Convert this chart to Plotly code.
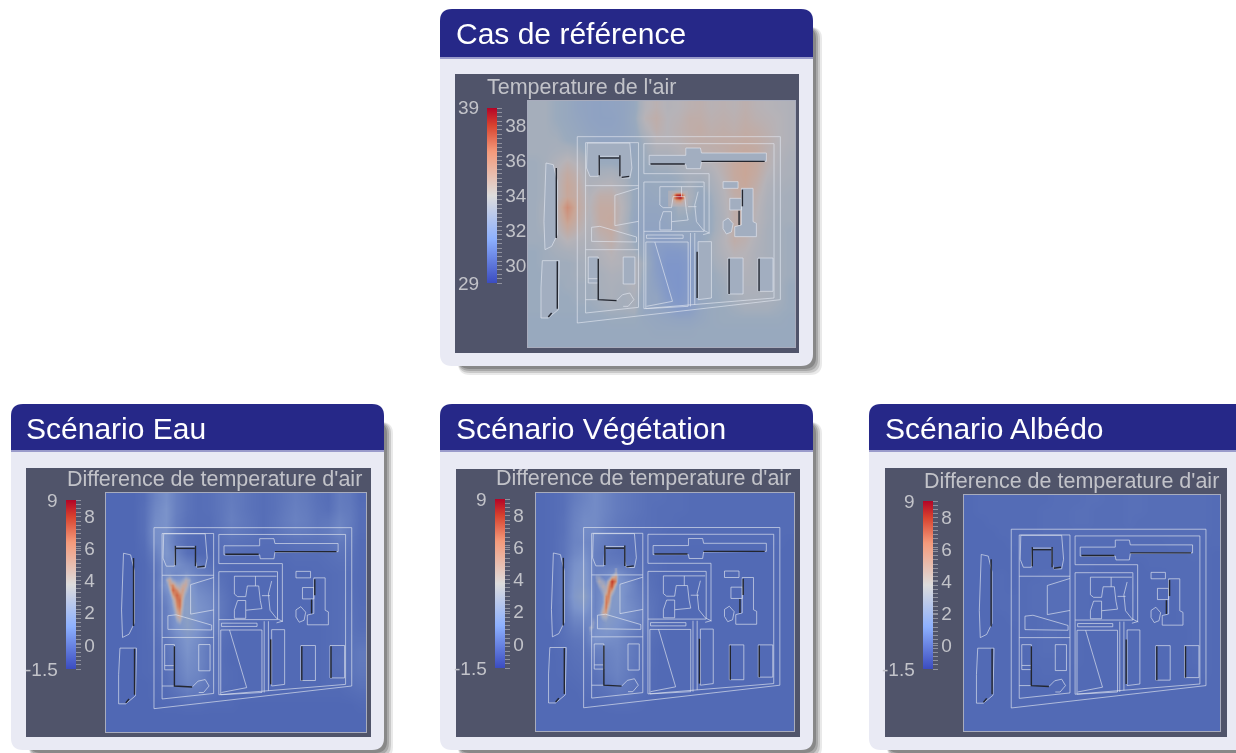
import plotly.graph_objects as go

W, H = 1236, 753

# ---- data: air temperature estimated on a coarse plan grid (tenths of a degree)
PLAN_X = [264 + 33.4 * (i + .5) for i in range(24)]
PLAN_Y = [289 + 33.55 * (j + .5) for j in range(22)]

REF_T = [
[340,340,338,336,333,332,331,332,333,336,345,348,345,346,348,349,347,348,347,349,347,346,345,344],
[340,340,338,336,334,332,331,331,333,337,347,350,346,347,350,350,348,349,348,350,348,347,346,344],
[340,340,339,337,335,333,332,332,333,336,344,349,346,348,350,351,349,350,349,351,350,348,346,344],
[340,340,340,338,337,335,333,333,334,336,340,346,346,347,349,350,350,351,351,352,351,349,346,344],
[340,340,341,342,340,337,335,335,336,336,339,343,343,345,347,348,349,350,352,353,352,348,345,343],
[339,340,344,348,345,340,338,338,337,337,338,340,340,342,344,345,346,349,353,355,353,348,344,342],
[339,340,346,352,348,342,341,342,340,337,337,338,338,339,341,341,343,348,353,355,352,346,343,342],
[339,340,346,354,350,343,345,346,342,337,336,337,336,338,340,338,341,346,352,354,350,344,342,341],
[339,340,346,354,351,345,350,350,344,337,335,336,336,342,342,336,339,345,350,352,348,343,341,340],
[339,341,348,362,352,346,352,352,345,336,334,334,335,340,340,335,338,344,350,352,347,342,341,340],
[339,341,347,358,351,345,352,353,344,335,333,333,334,338,337,335,338,343,350,351,346,342,340,340],
[339,340,345,352,348,344,350,352,343,335,332,332,333,335,335,335,338,344,350,350,345,341,340,339],
[339,339,342,346,344,343,347,350,344,338,334,328,328,330,332,335,340,345,350,348,344,341,340,339],
[338,339,340,341,342,342,344,347,343,340,335,327,324,324,327,336,340,344,347,346,343,341,340,339],
[338,339,339,339,340,341,343,345,344,344,338,327,322,322,325,336,339,342,345,345,343,342,340,339],
[338,338,339,339,340,340,341,343,342,345,336,328,322,321,325,336,338,340,343,344,343,342,340,339],
[338,338,338,339,339,339,341,342,341,344,335,330,323,321,325,335,338,339,341,343,343,342,340,338],
[338,338,338,338,339,339,340,342,340,342,334,333,325,322,326,335,337,339,340,342,342,341,340,338],
[338,338,338,338,338,338,339,340,340,341,334,333,330,325,327,334,337,338,339,340,340,340,339,338],
[337,337,337,337,337,337,337,338,338,338,336,335,334,333,333,335,337,338,338,338,338,338,338,337],
[337,337,337,337,337,337,337,337,337,337,337,336,336,336,336,337,337,337,337,337,337,337,337,337],
[337,337,337,337,337,337,337,337,337,337,337,337,337,337,337,337,337,337,337,337,337,337,337,337],
]
EAU_DT = [
[-6,-6,-6,-3,8,14,6,0,-3,-2,1,4,2,-1,-3,-1,2,5,3,-1,-3,4,2,-4],
[-6,-6,-6,-2,10,16,6,0,-3,-2,1,5,2,-1,-3,-1,3,6,4,0,-2,5,3,-3],
[-6,-6,-6,-2,12,16,5,-1,-3,-3,1,6,3,0,-3,0,4,7,5,1,2,8,4,-3],
[-6,-6,-6,-2,14,15,4,-2,-4,-3,0,4,2,0,-3,0,3,5,4,2,4,10,3,-3],
[-6,-6,-6,-3,12,16,3,-3,-5,-4,-2,0,-1,-2,-3,-3,-2,-1,-1,-1,0,3,1,-4],
[-6,-6,-6,-4,6,18,8,-2,-5,-5,-3,-2,-3,-4,-4,-4,-4,-3,-3,-3,-2,0,-1,-4],
[-6,-6,-6,-5,2,14,14,8,3,-2,-4,-5,-5,-5,-5,-5,-5,-4,-4,-4,-3,-2,-2,-4],
[-6,-6,-6,-5,0,14,10,14,6,2,-2,-4,-5,-5,-5,-5,-5,-5,-5,-4,-4,-3,-3,-4],
[-6,-6,-6,-5,0,18,22,22,10,6,0,-4,-5,-5,-5,-5,-5,-5,-5,-5,-4,-3,-3,-4],
[-6,-6,-6,-5,0,10,28,24,14,10,2,-3,-5,-5,-5,-5,-5,-5,-5,-5,-4,-3,-2,-4],
[-6,-6,-6,-5,-1,6,24,26,16,12,3,-3,-5,-5,-5,-5,-5,-5,-5,-5,-4,-3,-2,-3],
[-6,-6,-6,-5,-1,6,18,26,16,10,2,-3,-5,-5,-5,-5,-5,-5,-5,-5,-4,-3,-1,-3],
[-6,-6,-6,-5,-2,5,16,24,16,7,1,-4,-5,-5,-5,-5,-5,-5,-5,-5,-4,-3,-1,-2],
[-6,-6,-6,-5,-3,2,10,18,12,3,-2,-4,-5,-5,-5,-5,-5,-5,-5,-5,-4,-3,0,0],
[-6,-6,-6,-5,-4,0,8,16,10,2,-3,-5,-5,-5,-5,-5,-5,-5,-5,-5,-4,-3,0,3],
[-6,-6,-6,-5,-4,-1,6,14,10,2,-3,-5,-5,-5,-5,-5,-5,-5,-5,-5,-4,-2,0,3],
[-6,-6,-6,-5,-4,-2,5,12,9,1,-3,-4,-5,-5,-5,-5,-5,-5,-5,-5,-4,-3,0,2],
[-6,-6,-6,-6,-5,-3,3,9,7,1,-3,-4,-5,-5,-5,-5,-5,-5,-5,-5,-4,-4,-2,0],
[-6,-6,-6,-6,-5,-4,-1,3,2,-1,-4,-5,-5,-5,-5,-5,-5,-5,-5,-5,-5,-5,-4,-3],
[-6,-6,-6,-6,-6,-5,-5,-4,-4,-5,-5,-5,-6,-6,-6,-6,-6,-6,-6,-6,-6,-6,-6,-5],
[-6,-6,-6,-6,-6,-6,-6,-6,-6,-6,-6,-6,-6,-6,-6,-6,-6,-6,-6,-6,-6,-6,-6,-6],
[-6,-6,-6,-6,-6,-6,-6,-6,-6,-6,-6,-6,-6,-6,-6,-6,-6,-6,-6,-6,-6,-6,-6,-6],
]
VEG_DT = [
[-5,-4,-2,4,8,12,8,4,2,0,-2,-2,-3,-3,-4,-4,-4,-4,-4,-4,-4,-4,-4,-4],
[-5,-4,-2,6,10,12,8,4,2,0,-2,-3,-3,-3,-4,-4,-4,-4,-4,-4,-4,-4,-4,-4],
[-5,-4,-1,7,12,12,7,3,1,-1,-2,-3,-3,-4,-4,-4,-4,-4,-4,-4,-4,-4,-4,-4],
[-5,-4,-1,8,12,11,5,2,0,-1,-2,-3,-4,-4,-4,-4,-4,-4,-4,-4,-4,-4,-4,-4],
[-5,-4,0,8,10,8,4,0,-1,-2,-3,-4,-4,-4,-4,-4,-4,-4,-4,-4,-4,-4,-4,-5],
[-5,-4,0,10,14,6,2,0,-1,-2,-3,-4,-4,-5,-5,-5,-5,-5,-5,-5,-5,-5,-5,-5],
[-5,-4,2,14,18,6,4,3,1,-1,-3,-4,-5,-5,-5,-5,-5,-5,-5,-5,-5,-5,-5,-5],
[-5,-4,2,16,20,6,10,16,8,1,-2,-4,-5,-5,-5,-5,-5,-5,-5,-5,-5,-5,-5,-5],
[-5,-4,2,18,20,8,14,20,14,4,-1,-4,-5,-5,-5,-5,-5,-5,-5,-5,-5,-5,-5,-5],
[-5,-4,2,20,26,8,18,22,12,6,0,-3,-5,-5,-5,-5,-5,-5,-5,-5,-5,-5,-5,-5],
[-5,-4,1,16,20,8,22,20,14,8,1,-3,-5,-5,-5,-5,-5,-5,-5,-5,-5,-5,-5,-5],
[-5,-4,0,10,12,10,24,18,14,8,1,-3,-5,-5,-5,-5,-5,-5,-5,-5,-5,-5,-5,-5],
[-5,-5,-1,5,6,14,20,16,10,4,0,-4,-5,-5,-5,-5,-5,-5,-5,-5,-5,-5,-5,-5],
[-5,-5,-2,1,2,16,14,12,6,1,-2,-4,-5,-5,-5,-5,-5,-5,-5,-5,-5,-5,-5,-5],
[-5,-5,-3,-1,0,6,8,10,6,0,-3,-5,-5,-5,-5,-5,-5,-5,-5,-5,-5,-5,-5,-5],
[-5,-5,-4,-2,-1,1,6,9,5,0,-3,-5,-5,-5,-5,-5,-5,-5,-5,-5,-5,-5,-5,-5],
[-5,-5,-4,-3,-2,0,5,8,4,-1,-4,-5,-5,-5,-5,-5,-5,-5,-5,-5,-5,-5,-5,-5],
[-5,-5,-5,-4,-3,-2,2,6,3,-1,-4,-5,-5,-5,-5,-5,-5,-5,-5,-5,-5,-5,-5,-5],
[-5,-5,-5,-5,-4,-3,-1,2,1,-2,-4,-5,-5,-5,-5,-5,-5,-5,-5,-5,-5,-5,-5,-5],
[-5,-5,-5,-5,-5,-5,-4,-3,-3,-4,-5,-5,-5,-5,-5,-5,-5,-5,-5,-5,-5,-5,-5,-5],
[-5,-5,-5,-5,-5,-5,-5,-5,-5,-5,-5,-5,-5,-5,-5,-5,-5,-5,-5,-5,-5,-5,-5,-5],
[-5,-5,-5,-5,-5,-5,-5,-5,-5,-5,-5,-5,-5,-5,-5,-5,-5,-5,-5,-5,-5,-5,-5,-5],
]
ALB_DT = [
[-5,-4,-4,-4,-4,-4,-4,-4,-3,-3,-3,-2,-2,-3,-3,-2,-2,-3,-3,-3,-3,-3,-3,-4],
[-5,-4,-4,-4,-4,-4,-4,-3,-3,-3,-2,-2,-3,-3,-3,-2,-2,-3,-3,-3,-3,-3,-3,-4],
[-5,-5,-4,-4,-4,-4,-4,-3,-3,-3,-2,-2,-3,-3,-3,-2,-3,-3,-3,-3,-3,-3,-3,-4],
[-5,-5,-5,-4,-4,-4,-4,-3,-3,-3,-3,-3,-3,-3,-3,-3,-3,-3,-3,-3,-3,-3,-3,-4],
[-5,-5,-5,-5,-4,-4,-4,-4,-4,-4,-4,-4,-4,-4,-4,-4,-4,-4,-4,-3,-3,-3,-4,-4],
[-5,-5,-5,-5,-5,-4,-4,-4,-4,-4,-4,-4,-4,-4,-4,-4,-4,-4,-4,-4,-4,-3,-4,-5],
[-5,-5,-5,-5,-5,-4,-4,-4,-4,-4,-4,-4,-5,-5,-5,-5,-5,-4,-4,-4,-4,-4,-4,-5],
[-5,-5,-5,-4,-5,-4,-4,-3,-3,-3,-4,-4,-5,-5,-5,-5,-5,-5,-5,-4,-4,-4,-4,-5],
[-5,-5,-5,-4,-5,-4,-3,-3,-3,-3,-4,-4,-5,-5,-5,-3,-5,-5,-5,-5,-4,-4,-4,-5],
[-5,-5,-5,-4,-4,-4,-3,-3,-3,-3,-4,-4,-5,-5,-5,-4,-5,-5,-5,-5,-4,-4,-4,-5],
[-5,-5,-5,-4,-4,-4,-3,-3,-3,-3,-4,-4,-5,-5,-5,-5,-5,-5,-5,-5,-4,-4,-4,-5],
[-5,-5,-5,-5,-4,-4,-4,-3,-3,-3,-4,-4,-5,-5,-5,-5,-5,-5,-5,-5,-4,-4,-4,-5],
[-5,-5,-5,-5,-5,-4,-4,-3,-3,-4,-4,-5,-5,-5,-5,-5,-5,-5,-5,-5,-5,-4,-4,-5],
[-5,-5,-5,-5,-5,-4,-4,-3,-3,-4,-4,-5,-5,-5,-5,-5,-5,-5,-5,-5,-5,-4,-4,-5],
[-5,-5,-5,-5,-5,-5,-4,-3,-3,-4,-4,-5,-5,-5,-5,-5,-5,-5,-5,-5,-5,-4,-4,-5],
[-5,-5,-5,-5,-5,-5,-4,-4,-4,-4,-4,-5,-5,-5,-5,-5,-5,-5,-5,-5,-5,-4,-4,-5],
[-5,-5,-5,-5,-5,-5,-5,-4,-4,-4,-5,-5,-5,-5,-5,-5,-5,-5,-5,-5,-5,-5,-4,-5],
[-5,-5,-5,-5,-5,-5,-5,-5,-5,-5,-5,-5,-5,-5,-5,-5,-5,-5,-5,-5,-5,-5,-5,-5],
[-5,-5,-5,-5,-5,-5,-5,-5,-5,-5,-5,-5,-5,-5,-5,-5,-5,-5,-5,-5,-5,-5,-5,-5],
[-5,-5,-5,-5,-5,-5,-5,-5,-5,-5,-5,-5,-5,-5,-5,-5,-5,-5,-5,-5,-5,-5,-5,-5],
[-5,-5,-5,-5,-5,-5,-5,-5,-5,-5,-5,-5,-5,-5,-5,-5,-5,-5,-5,-5,-5,-5,-5,-5],
[-5,-5,-5,-5,-5,-5,-5,-5,-5,-5,-5,-5,-5,-5,-5,-5,-5,-5,-5,-5,-5,-5,-5,-5],
]

# ---- data: finer readings of the hottest plumes (tenths of a degree)
HOT_REF_X = [690,700,710,720,730,740]
HOT_REF_Y = [562,570,578,586,594,602]
HOT_REF = [
[340,340,340,340,340,340],
[340,355,385,390,360,340],
[340,358,380,392,365,340],
[340,350,360,362,350,340],
[340,345,350,350,345,340],
[340,340,340,340,340,340],
]
HOT_EAU_X = [440,450,460,470,480,490,500,510,520,530]
HOT_EAU_Y = [540,556,572,588,604,620,636,652,668,684,700]
HOT_EAU = [
[0,10,20,10,0,0,10,20,10,0],
[0,40,52,30,20,20,30,44,34,0],
[0,20,54,62,38,36,48,50,25,0],
[0,5,40,72,60,48,56,40,10,0],
[0,0,22,56,72,62,52,24,0,0],
[0,0,5,38,66,70,44,10,0,0],
[0,0,0,28,60,68,38,5,0,0],
[0,0,0,18,52,60,32,0,0,0],
[0,0,0,10,44,54,26,0,0,0],
[0,0,0,0,30,40,16,0,0,0],
[0,0,0,0,10,15,5,0,0,0],
]
HOT_VEG_X = [420,430,440,450,460,470,480,490,500,510,520,530]
HOT_VEG_Y = [530,546,562,578,594,610,626,642,658,674,690,706,722]
HOT_VEG = [
[0,0,0,0,0,0,0,0,0,35,0,0],
[0,0,0,30,30,15,0,15,42,55,15,0],
[0,0,0,25,42,34,25,50,84,62,0,0],
[0,0,0,10,30,42,38,62,76,32,0,0],
[0,0,0,0,15,34,44,68,50,15,0,0],
[0,0,0,0,5,25,62,64,28,0,0,0],
[0,0,0,0,0,25,68,54,18,0,0,0],
[0,0,0,0,5,38,66,40,12,0,0,0],
[0,0,0,5,15,50,56,26,0,0,0,0],
[0,0,20,15,15,34,36,18,0,0,0,0],
[0,0,32,15,5,15,18,5,0,0,0,0],
[0,35,30,5,0,0,0,0,0,0,0,0],
[0,25,0,0,0,0,0,0,0,0,0,0],
]

# ---- data: site plan, in plan units
BUILDINGS = [
 [(318,475),(340,480),(352,530),(352,690),(335,725),(315,735),(312,650),(318,475)],
 [(307,768),(358,768),(355,915),(325,940),(303,940),(303,850),(307,768)],
 [(442,415),(570,415),(576,490),(570,520),(545,520),(540,500),(540,455),(478,455),(475,515),(450,515),(440,490),(442,415)],
 [(628,452),(738,452),(738,430),(782,430),(785,445),(980,445),(980,470),(785,472),(782,492),(740,492),(738,480),(628,480),(628,452)],
 [(445,757),(475,757),(475,835),(445,835),(445,757)],
 [(550,757),(585,757),(585,838),(550,838),(550,757)],
 [(775,711),(815,711),(815,880),(775,885),(775,711)],
 [(865,760),(910,760),(910,868),(865,868),(865,760)],
 [(955,760),(1000,760),(1000,860),(955,860),(955,760)],
 [(850,531),(895,531),(895,551),(850,551),(850,531)],
 [(905,551),(940,551),(940,651),(950,656),(950,696),(885,696),(885,666),(905,661),(905,551)],
 [(870,581),(905,581),(905,616),(870,616),(870,581)],
 [(850,650),(865,640),(880,657),(875,682),(860,688),(850,672),(850,650)],
]
OUTLINES = [
 [(412,396),(1022,396),(1022,885),(412,955),(412,396)],
 [(437,414),(596,414),(596,908),(437,925),(437,414)],
 [(437,543),(596,543)],
 [(437,735),(596,735)],
 [(612,417),(1003,417),(1003,880),(612,912),(612,532)],
 [(612,417),(612,507),(808,507),(808,685),(790,690)],
 [(612,532),(793,532),(793,680),(612,680)],
 [(525,572),(596,550)],
 [(596,650),(525,663),(525,572)],
 [(455,710),(455,668),(480,665),(590,697),(590,712),(455,710)],
 [(660,546),(790,546)],
 [(660,546),(660,601),(670,609),(695,609),(700,576),(735,576),(740,621),(745,646),(695,651),(695,676),(660,676),(660,651),(670,621),(695,621),(695,651)],
 [(725,546),(725,576)],
 [(745,606),(770,606)],
 [(775,561),(765,601),(770,651),(790,676),(810,686)],
 [(620,691),(730,691),(730,701),(620,701),(620,691)],
 [(618,712),(745,712),(745,905),(618,912),(618,712)],
 [(645,712),(698,890),(620,905)],
 [(752,685),(752,905)],
 [(765,685),(765,900)],
 [(445,822),(475,822)],
 [(437,885),(475,885)],
 [(530,888),(548,870),(570,865),(582,885),(565,905),(550,905)],
]
WALLS = [
 [(349,490),(349,700)],
 [(352,770),(352,912)],
 [(325,937),(335,925)],
 [(478,452),(478,512)],
 [(480,460),(538,460)],
 [(540,452),(540,515)],
 [(545,518),(568,515)],
 [(785,470),(975,470)],
 [(632,478),(735,478)],
 [(475,762),(475,885),(530,888)],
 [(772,741),(772,880)],
 [(868,762),(868,868)],
 [(958,762),(958,860)],
 [(908,555),(908,605)],
 [(898,618),(898,661)],
]

REF_TICKS = [30, 32, 34, 36, 38]
DIFF_TICKS = [0, 2, 4, 6, 8]

PANELS = [
 dict(title="Cas de référence", sub="Temperature de l'air", z=REF_T, zmin=29, zmax=39, ticks=REF_TICKS,
      minl="29", maxl="39", card=(440,9,813,366), bar=57, dark=(455,74,799,353), mp=(528,101,795,347),
      cb=(487,108,283), subx=(487,87), fill="#a2aec0", tx=456, hot=(HOT_REF_X,HOT_REF_Y,HOT_REF)),
 dict(title="Scénario Eau", sub="Difference de temperature d'air", z=EAU_DT, zmin=-1.5, zmax=9, ticks=DIFF_TICKS,
      minl="-1.5", maxl="9", card=(11,404,384,750), bar=450, dark=(26,468,371,737), mp=(106,493,366,732),
      cb=(66,500,669), subx=(67,479), fill=None, tx=26, hot=(HOT_EAU_X,HOT_EAU_Y,HOT_EAU)),
 dict(title="Scénario Végétation", sub="Difference de temperature d'air", z=VEG_DT, zmin=-1.5, zmax=9, ticks=DIFF_TICKS,
      minl="-1.5", maxl="9", card=(440,404,813,750), bar=450, dark=(456,469,800,737), mp=(536,493,794,731),
      cb=(495,499,668), subx=(496,478), fill=None, tx=456, hot=(HOT_VEG_X,HOT_VEG_Y,HOT_VEG)),
 dict(title="Scénario Albédo", sub="Difference de temperature d'air", z=ALB_DT, zmin=-1.5, zmax=9, ticks=DIFF_TICKS,
      minl="-1.5", maxl="9", card=(869,404,1250,750), bar=450, dark=(885,468,1227,737), mp=(964,495,1220,731),
      cb=(923,501,669), subx=(924,481), fill=None, tx=885, hot=None),
]

COOLWARM = [[0,"#3b4cc0"],[.25,"#8db0fe"],[.5,"#dddcdc"],[.75,"#f49a7b"],[.9,"#d8432f"],[1,"#b40426"]]
FIELD = [[0,"#4a5fb0"],[.086,"#5068b4"],[.3,"#7c94cb"],[.48,"#9aaabd"],[.5,"#a5aebb"],[.56,"#b6b3b8"],
         [.65,"#c9a697"],[.75,"#d0846a"],[.9,"#c8492f"],[1,"#b01a28"]]
HOT = [[0,"rgba(176,180,192,0)"],[.3,"rgba(160,170,200,0)"],[.45,"rgba(176,180,192,.55)"],[.55,"rgba(190,175,175,.85)"],
       [.65,"#cda592"],[.75,"#d4825f"],[.9,"#c8492f"],[1,"#b01a28"]]
DARK = "#50546a"; TXT = "#c2c3c9"
FONT = "Liberation Sans"

fx = lambda x: x / W
fy = lambda y: 1 - y / H

def rr(x0, y0, x1, y1, r, bottom=True):
    rb = r if bottom else 0
    pts = [("M", x0, y0 + r), ("Q", x0, y0, x0 + r, y0), ("L", x1 - r, y0), ("Q", x1, y0, x1, y0 + r),
           ("L", x1, y1 - rb), ("Q", x1, y1, x1 - rb, y1), ("L", x0 + rb, y1), ("Q", x0, y1, x0, y1 - rb)]
    s = ""
    for p in pts:
        c = p[1:]
        s += p[0] + " " + " ".join(f"{fx(c[i]):.5f},{fy(c[i+1]):.5f}" for i in range(0, len(c), 2)) + " "
    return s + "Z"

def flat(polys):
    xs, ys = [], []
    for p in polys:
        xs += [q[0] for q in p] + [None]
        ys += [q[1] for q in p] + [None]
    return xs, ys

fig = go.Figure()
shapes, annos = [], []
layout_axes = {}
for k, P in enumerate(PANELS):
    n = "" if k == 0 else str(k + 1)
    xa, ya = "x" + n, "y" + n
    x0, y0, x1, y1 = P["card"]
    for d, a in ((9, .10), (7, .16), (5, .2), (3, .25)):
        shapes.append(dict(type="path", path=rr(x0 + 18, y0 + 18, x1 + d, y1 + d, 12), xref="paper", yref="paper",
                           fillcolor=f"rgba(40,40,40,{a})", line_width=0, layer="below"))
    shapes.append(dict(type="path", path=rr(x0, y0, x1, y1, 12), xref="paper", yref="paper",
                       fillcolor="#e9eaf4", line_width=0, layer="below"))
    shapes.append(dict(type="path", path=rr(x0, y0, x1, P["bar"], 12, bottom=False), xref="paper", yref="paper",
                       fillcolor="#262888", line_width=0, layer="below"))
    shapes.append(dict(type="rect", x0=fx(x0), x1=fx(x1), y0=fy(P["bar"]), y1=fy(P["bar"] + 2), xref="paper", yref="paper",
                       fillcolor="#9a9bcb", line_width=0, layer="below"))
    dx0, dy0, dx1, dy1 = P["dark"]
    shapes.append(dict(type="rect", x0=fx(dx0), x1=fx(dx1), y0=fy(dy0), y1=fy(dy1), xref="paper", yref="paper",
                       fillcolor=DARK, line_width=0, layer="below"))
    mx0, my0, mx1, my1 = P["mp"]
    layout_axes["xaxis" + n] = dict(domain=[fx(mx0), fx(mx1)], range=[264, 1066], anchor=ya, showticklabels=False,
                                    ticks="", showgrid=False, zeroline=False, showline=True, mirror=True,
                                    linecolor="rgba(205,210,225,.7)", linewidth=1)
    layout_axes["yaxis" + n] = dict(domain=[fy(my1), fy(my0)], range=[1027, 289], anchor=xa, showticklabels=False,
                                    ticks="", showgrid=False, zeroline=False, showline=True, mirror=True,
                                    linecolor="rgba(205,210,225,.7)", linewidth=1)
    cbx, cby0, cby1 = P["cb"]
    lo, hi = P["zmin"], P["zmax"]
    step = (hi - lo) / 40
    minor = [lo + i * step for i in range(41)]
    tickvals = P["ticks"] + minor
    ticktext = [str(t) for t in P["ticks"]] + [""] * len(minor)
    fig.add_trace(go.Heatmap(x=PLAN_X, y=PLAN_Y, z=[[v / 10 for v in r] for r in P["z"]], xaxis=xa, yaxis=ya,
                             zmin=lo, zmax=hi, colorscale=FIELD, zsmooth="best", showscale=False, hoverinfo="skip"))
    if P["hot"]:
        hx, hy, hz = P["hot"]
        fig.add_trace(go.Heatmap(x=hx, y=hy, z=[[v / 10 for v in r] for r in hz], xaxis=xa, yaxis=ya,
                                 zmin=lo, zmax=hi, colorscale=HOT, zsmooth="best", showscale=False, hoverinfo="skip"))
    bx, by = flat(BUILDINGS)
    fig.add_trace(go.Scatter(x=bx, y=by, xaxis=xa, yaxis=ya, mode="lines", showlegend=False, hoverinfo="skip",
                             fill="toself" if P["fill"] else None, fillcolor=P["fill"],
                             line=dict(color="rgba(225,230,240,.72)", width=0.9)))
    ox, oy = flat(OUTLINES)
    fig.add_trace(go.Scatter(x=ox, y=oy, xaxis=xa, yaxis=ya, mode="lines", showlegend=False, hoverinfo="skip",
                             line=dict(color="rgba(225,230,240,.72)", width=0.9)))
    wx, wy = flat(WALLS)
    fig.add_trace(go.Scatter(x=wx, y=wy, xaxis=xa, yaxis=ya, mode="lines", showlegend=False, hoverinfo="skip",
                             line=dict(color="#23262f", width=1.4)))
    fig.add_trace(go.Scatter(x=[None], y=[None], xaxis=xa, yaxis=ya, mode="markers", showlegend=False, hoverinfo="skip",
                             marker=dict(color=[lo, hi], cmin=lo, cmax=hi, colorscale=COOLWARM, showscale=True,
        colorbar=dict(x=fx(cbx), xanchor="left", xpad=0, y=fy(cby0), yanchor="top", ypad=0,
                      thickness=10, thicknessmode="pixels", len=(cby1 - cby0) / H, lenmode="fraction",
                      outlinewidth=0, tickmode="array", tickvals=tickvals, ticktext=ticktext,
                      ticks="outside", ticklen=5, tickwidth=1, tickcolor="#8f919e",
                      tickfont=dict(family=FONT, size=19, color=TXT)))))
    annos.append(dict(text=P["title"], x=fx(P["tx"]), y=fy((y0 + P["bar"]) / 2 + 1), xref="paper", yref="paper",
                      xanchor="left", yanchor="middle", showarrow=False, xshift=-2,
                      font=dict(family=FONT, size=30, color="#ffffff")))
    annos.append(dict(text=P["sub"], x=fx(P["subx"][0]), y=fy(P["subx"][1]), xref="paper", yref="paper",
                      xanchor="left", yanchor="middle", showarrow=False, xshift=-2,
                      font=dict(family=FONT, size=21.5, color=TXT)))
    for lab, yy in ((P["maxl"], cby0), (P["minl"], cby1)):
        annos.append(dict(text=lab, x=fx(cbx - 6), y=fy(yy), xref="paper", yref="paper",
                          xanchor="right", yanchor="middle", showarrow=False,
                          font=dict(family=FONT, size=19, color=TXT)))

fig.update_layout(width=W, height=H, margin=dict(l=0, r=0, t=0, b=0), paper_bgcolor="#ffffff", plot_bgcolor=DARK,
                  shapes=shapes, annotations=annos, showlegend=False, **layout_axes)
fig.write_html("out.html", config=dict(displayModeBar=False),
               post_script="document.body.style.margin='0';document.body.style.overflow='hidden';"
                           "document.querySelectorAll('.main-svg').forEach(function(e){e.style.filter='blur(0.6px)';});")
